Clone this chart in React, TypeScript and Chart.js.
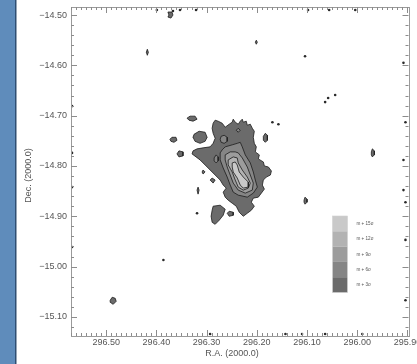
import React, { useEffect, useRef } from 'react';
import { Chart, registerables } from 'chart.js';

Chart.register(...registerables);

// ---- axes ----
const xTickValues = [296.5, 296.4, 296.3, 296.2, 296.1, 296.0, 295.9];
const yTickValues = [-14.5, -14.6, -14.7, -14.8, -14.9, -15.0, -15.1];
const raRange = [295.898, 296.57];
const decRange = [-15.138, -14.484];
const xTitle = 'R.A. (2000.0)';
const yTitle = 'Dec. (2000.0)';

// ---- legend / levels (outer -> inner) ----
const levelColors = ['#6b6b6b', '#858585', '#9c9c9c', '#b2b2b2', '#c9c9c9'];
const legendLabels = ['m + 15σ', 'm + 12σ', 'm + 9σ', 'm + 6σ', 'm + 3σ'];

// ---- contour level 1 (m + 3σ) ----
const level1Main = [
  [296.287, -14.715], [296.283, -14.709], [296.277, -14.711], [296.269, -14.715], [296.263, -14.723],
  [296.255, -14.717], [296.249, -14.713], [296.247, -14.707], [296.243, -14.713], [296.237, -14.717],
  [296.233, -14.711], [296.229, -14.707], [296.227, -14.713], [296.221, -14.711], [296.219, -14.719],
  [296.213, -14.717], [296.209, -14.725], [296.205, -14.731], [296.207, -14.743], [296.205, -14.755],
  [296.201, -14.762], [296.203, -14.772], [296.195, -14.778], [296.197, -14.786], [296.187, -14.792],
  [296.185, -14.8], [296.177, -14.802], [296.171, -14.81], [296.173, -14.818], [296.181, -14.822],
  [296.187, -14.828], [296.189, -14.838], [296.185, -14.846], [296.191, -14.854], [296.197, -14.862],
  [296.207, -14.864], [296.211, -14.872], [296.205, -14.88], [296.211, -14.888], [296.219, -14.894],
  [296.227, -14.9], [296.235, -14.892], [296.241, -14.88], [296.249, -14.874], [296.257, -14.868],
  [296.263, -14.862], [296.267, -14.852], [296.261, -14.844], [296.267, -14.838], [296.273, -14.828],
  [296.283, -14.818], [296.293, -14.808], [296.301, -14.8], [296.313, -14.788], [296.321, -14.782],
  [296.329, -14.776], [296.327, -14.77], [296.319, -14.766], [296.307, -14.764], [296.293, -14.762],
  [296.287, -14.755], [296.283, -14.745], [296.287, -14.735], [296.289, -14.725],
];
const level1SouthLobe = [
  [296.287, -14.88], [296.273, -14.878], [296.263, -14.886], [296.267, -14.898], [296.275, -14.908],
  [296.283, -14.916], [296.289, -14.912], [296.291, -14.9], [296.289, -14.888],
];
const level1WestLobe = [
  [296.325, -14.737], [296.315, -14.731], [296.303, -14.733], [296.299, -14.743], [296.303, -14.751],
  [296.313, -14.755], [296.323, -14.751], [296.327, -14.743],
];
const level1Islands = [
  [[296.373, -14.747], [296.369, -14.743], [296.361, -14.743], [296.359, -14.749], [296.365, -14.753], [296.371, -14.751]],
  [[296.339, -14.705], [296.333, -14.701], [296.323, -14.701], [296.319, -14.707], [296.327, -14.711], [296.335, -14.709]],
  [[296.359, -14.776], [296.355, -14.77], [296.347, -14.772], [296.347, -14.78], [296.355, -14.782]],
  [[296.187, -14.741], [296.183, -14.735], [296.179, -14.739], [296.179, -14.749], [296.183, -14.753], [296.187, -14.749]],
  [[295.972, -14.772], [295.97, -14.766], [295.966, -14.77], [295.966, -14.778], [295.97, -14.782], [295.972, -14.778]],
  [[296.106, -14.868], [296.104, -14.862], [296.1, -14.866], [296.1, -14.872], [296.104, -14.876], [296.106, -14.872]],
  [[296.492, -15.067], [296.488, -15.061], [296.482, -15.063], [296.48, -15.069], [296.486, -15.075], [296.492, -15.071]],
  [[296.259, -14.894], [296.255, -14.89], [296.247, -14.892], [296.247, -14.898], [296.255, -14.9]],
  [[296.293, -14.828], [296.289, -14.824], [296.283, -14.828], [296.287, -14.834]],
  [[296.309, -14.812], [296.307, -14.808], [296.303, -14.812], [296.307, -14.816]],
  [[296.319, -14.848], [296.317, -14.842], [296.315, -14.848], [296.317, -14.856]],
  [[296.42, -14.574], [296.418, -14.568], [296.416, -14.574], [296.418, -14.58]],
  [[296.377, -14.494], [296.369, -14.494], [296.367, -14.5], [296.371, -14.506], [296.377, -14.504], [296.375, -14.5]],
  [[296.203, -14.554], [296.201, -14.55], [296.199, -14.554], [296.201, -14.558]],
];

// ---- contour level 2 (m + 6σ) ----
const level2Main = [
  [296.269, -14.768], [296.263, -14.762], [296.249, -14.758], [296.239, -14.755], [296.233, -14.753],
  [296.229, -14.762], [296.223, -14.778], [296.213, -14.794], [296.207, -14.812], [296.203, -14.828],
  [296.199, -14.842], [296.207, -14.854], [296.219, -14.862], [296.237, -14.858], [296.247, -14.852],
  [296.253, -14.838], [296.259, -14.822], [296.267, -14.804], [296.273, -14.788], [296.273, -14.774],
];
const level2Islands = [
  [[296.273, -14.747], [296.271, -14.741], [296.265, -14.739], [296.259, -14.743], [296.259, -14.751], [296.265, -14.755], [296.271, -14.753]],
  [[296.241, -14.729], [296.237, -14.725], [296.233, -14.729], [296.237, -14.733]],
  [[296.285, -14.784], [296.281, -14.778], [296.277, -14.782], [296.277, -14.79], [296.281, -14.794], [296.285, -14.79]],
];

// ---- contour level 3 (m + 9σ) ----
const level3Main = [
  [296.263, -14.778], [296.253, -14.772], [296.243, -14.772], [296.237, -14.774], [296.229, -14.784],
  [296.219, -14.802], [296.213, -14.818], [296.207, -14.834], [296.209, -14.848], [296.223, -14.854],
  [296.237, -14.848], [296.247, -14.834], [296.253, -14.818], [296.259, -14.802], [296.263, -14.788],
];

// ---- contour level 4 (m + 12σ) ----
const level4Main = [
  [296.257, -14.788], [296.247, -14.782], [296.239, -14.784], [296.237, -14.794], [296.229, -14.808],
  [296.219, -14.822], [296.213, -14.834], [296.217, -14.844], [296.227, -14.848], [296.237, -14.842],
  [296.243, -14.828], [296.249, -14.812], [296.257, -14.798],
];

// ---- contour level 5 (m + 15σ) ----
const level5Main = [
  [296.249, -14.794], [296.243, -14.792], [296.239, -14.798], [296.235, -14.812], [296.227, -14.822],
  [296.217, -14.832], [296.217, -14.842], [296.227, -14.844], [296.233, -14.838], [296.239, -14.824],
  [296.247, -14.812], [296.249, -14.802],
];

// ---- isolated tiny detections ----
const isolatedPoints = [
  [296.169, -14.713], [296.157, -14.717], [296.064, -14.673], [296.058, -14.665], [296.044, -14.659],
  [296.319, -14.894], [296.386, -14.987], [296.104, -14.582], [296.399, -14.49], [296.367, -14.492],
  [296.353, -14.49], [296.321, -14.49], [296.098, -14.49], [296.056, -14.49], [296.004, -14.49],
  [296.568, -14.681], [296.568, -14.774], [296.568, -14.842], [296.568, -14.961], [295.908, -14.595],
  [295.904, -14.713], [295.908, -14.788], [295.908, -14.848], [295.904, -14.872], [295.904, -14.947],
  [295.904, -15.067], [296.293, -15.134], [296.143, -15.134], [296.11, -15.134], [296.064, -15.134],
  [295.99, -15.134],
];

const FONT = '"Liberation Sans", Arial, Helvetica, sans-serif';

const fmt = (v: number) => (v < 0 ? '\u2212' + Math.abs(v).toFixed(2) : v.toFixed(2));

const decorPlugin = {
  id: 'decor',
  beforeDraw(chart: any) {
    const ctx = chart.ctx;
    ctx.save();
    ctx.fillStyle = '#ffffff';
    ctx.fillRect(0, 0, chart.width, chart.height);
    ctx.fillStyle = '#5f8cbb';
    ctx.fillRect(0, 0, 15, chart.height);
    ctx.fillStyle = '#2f4e72';
    ctx.fillRect(15, 0, 1.5, chart.height);
    ctx.restore();
  },
  afterDraw(chart: any) {
    const ctx = chart.ctx;
    const a = chart.chartArea;
    const xs = chart.scales.x;
    const ys = chart.scales.y;
    ctx.save();
    ctx.strokeStyle = '#9a9a9a';
    ctx.lineWidth = 1;
    ctx.strokeRect(Math.round(a.left) + 0.5, Math.round(a.top) + 0.5, Math.round(a.right - a.left), Math.round(a.bottom - a.top));
    ctx.strokeStyle = '#8c8c8c';
    ctx.beginPath();
    for (let i = Math.ceil(raRange[0] * 100 - 1e-6); i <= Math.floor(raRange[1] * 100 + 1e-6); i++) {
      const px = Math.round(xs.getPixelForValue(i / 100)) + 0.5;
      const major = i % 10 === 0;
      const len = major ? 6 : 3;
      ctx.moveTo(px, a.bottom); ctx.lineTo(px, a.bottom - len);
      ctx.moveTo(px, a.top); ctx.lineTo(px, a.top + len);
    }
    for (let i = Math.ceil(decRange[0] * 50 - 1e-6); i <= Math.floor(decRange[1] * 50 + 1e-6); i++) {
      const py = Math.round(ys.getPixelForValue(i / 50)) + 0.5;
      const major = i % 5 === 0;
      const len = major ? 6 : 3;
      ctx.moveTo(a.left, py); ctx.lineTo(a.left + len, py);
      ctx.moveTo(a.right, py); ctx.lineTo(a.right - len, py);
    }
    ctx.stroke();

    ctx.fillStyle = '#555555';
    ctx.font = '9px ' + FONT;
    ctx.textAlign = 'center';
    ctx.textBaseline = 'middle';
    ctx.fillText(xTitle, 232, a.bottom + 18);
    ctx.save();
    ctx.translate(29, (a.top + a.bottom) / 2 + 4);
    ctx.rotate(-Math.PI / 2);
    ctx.fillText(yTitle, 0, 0);
    ctx.restore();

    const bx = a.right - 76;
    const by = a.top + 209;
    const bh = 15.3;
    const bw = 15;
    ctx.font = '4.6px ' + FONT;
    ctx.textAlign = 'left';
    legendLabels.forEach((lab, k) => {
      ctx.fillStyle = levelColors[levelColors.length - 1 - k];
      ctx.fillRect(bx, by + k * bh, bw, bh);
      ctx.fillStyle = '#555555';
      ctx.fillText(lab, bx + bw + 9, by + k * bh + bh / 2);
    });
    ctx.strokeStyle = '#d0d0d0';
    ctx.lineWidth = 0.6;
    ctx.strokeRect(bx, by, bw, bh * legendLabels.length);
    ctx.restore();
  },
};

export default function App() {
  const ref = useRef<HTMLCanvasElement | null>(null);
  useEffect(() => {
    document.body.style.margin = '0';
    const canvas = ref.current;
    if (!canvas) return;

    const polys: { level: number; poly: number[][] }[] = [
      { level: 0, poly: level1Main },
      { level: 0, poly: level1SouthLobe },
      { level: 0, poly: level1WestLobe },
      ...level1Islands.map((p) => ({ level: 0, poly: p })),
      { level: 1, poly: level2Main },
      ...level2Islands.map((p) => ({ level: 1, poly: p })),
      { level: 2, poly: level3Main },
      { level: 3, poly: level4Main },
      { level: 4, poly: level5Main },
    ];

    const datasets: any[] = polys.map((c) => ({
      data: [...c.poly, c.poly[0]].map(([x, y]) => ({ x, y })),
      showLine: true,
      fill: 'shape',
      backgroundColor: levelColors[c.level],
      borderColor: '#1c1c1c',
      borderWidth: 0.8,
      pointRadius: 0,
      pointHoverRadius: 0,
      tension: 0,
      order: 10 - c.level,
    }));
    datasets.push({
      data: isolatedPoints.map(([x, y]) => ({ x, y })),
      showLine: false,
      pointRadius: 1.3,
      pointBackgroundColor: '#2a2a2a',
      pointBorderWidth: 0,
      order: 0,
    });

    const chart = new Chart(canvas, {
      type: 'scatter',
      data: { datasets },
      options: {
        responsive: false,
        animation: false,
        devicePixelRatio: 1,
        events: [],
        layout: { padding: { left: 0, top: 7, right: 8.5, bottom: 0 } },
        plugins: { legend: { display: false }, tooltip: { enabled: false } },
        scales: {
          x: {
            type: 'linear',
            reverse: true,
            min: raRange[0],
            max: raRange[1],
            grid: { display: false, drawTicks: false },
            border: { display: false },
            afterBuildTicks: (s: any) => { s.ticks = xTickValues.map((v) => ({ value: v })); },
            afterFit: (s: any) => { s.height = 28; s.paddingLeft = 0; s.paddingRight = 0; },
            ticks: {
              autoSkip: false,
              maxRotation: 0,
              padding: 1,
              color: '#555555',
              font: { size: 9, family: FONT },
              callback: (v: any) => Number(v).toFixed(2),
            },
          },
          y: {
            type: 'linear',
            min: decRange[0],
            max: decRange[1],
            grid: { display: false, drawTicks: false },
            border: { display: false },
            afterBuildTicks: (s: any) => { s.ticks = yTickValues.map((v) => ({ value: v })); },
            afterFit: (s: any) => { s.width = 71; s.paddingTop = 0; s.paddingBottom = 0; },
            ticks: {
              autoSkip: false,
              padding: 4,
              color: '#555555',
              font: { size: 9, family: FONT },
              callback: (v: any) => fmt(Number(v)),
            },
          },
        },
      },
      plugins: [decorPlugin],
    });
    return () => chart.destroy();
  }, []);

  return (
    <div style={{ width: 417, height: 364, position: 'relative' }}>
      <canvas ref={ref} width={417} height={364} style={{ display: 'block' }} />
    </div>
  );
}
